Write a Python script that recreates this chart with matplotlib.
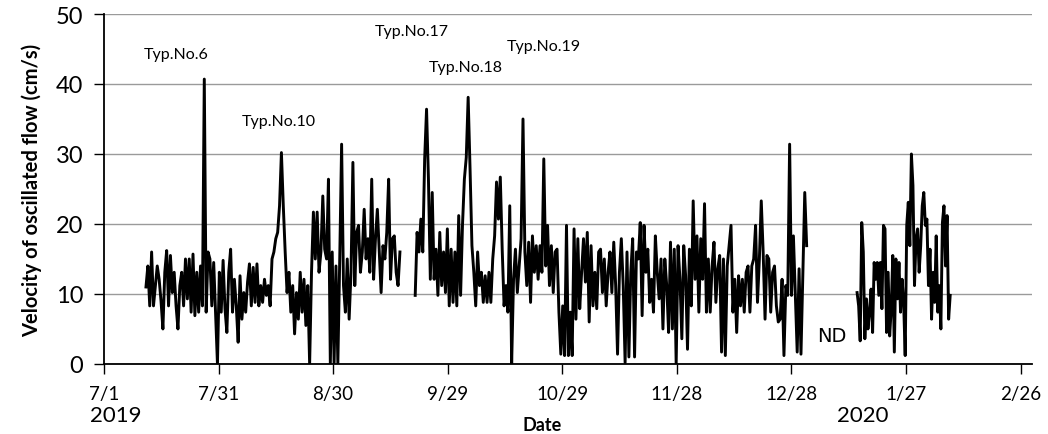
import pandas as pd
import numpy as np
import matplotlib
matplotlib.use('Agg')
import matplotlib.pyplot as plt
import matplotlib.dates as mdates

plt.rcParams['font.family'] = ['Lato', 'DejaVu Sans']

# half-day readings of oscillated flow velocity (cm/s), three recording periods
seg1_start, seg1_end = '2019-07-12 00:00', '2019-09-16 12:00'
seg1_vals = [
    11.0, 14.0, 8.3, 16.0, 8.3, 11.2, 14.0, 12.1, 9.0, 5.0, 13.1, 16.2, 8.3, 15.5, 10.2, 13.1,
    8.3, 5.0, 11.2, 13.1, 8.3, 15.0, 9.3, 15.0, 7.4, 15.7, 6.9, 13.1, 7.4, 14.0, 8.3, 40.7,
    7.4, 16.0, 15.0, 8.3, 14.5, 7.4, 0.0, 13.1, 7.4, 14.8, 7.9, 4.5, 13.1, 16.4, 7.4, 12.1,
    8.3, 3.1, 12.6, 6.4, 10.2, 7.4, 11.7, 14.3, 8.3, 13.8, 8.8, 14.3, 8.3, 11.2, 8.8, 12.1,
    9.8, 11.2, 8.3, 15.0, 16.0, 17.9, 18.8, 22.6, 30.2, 22.6, 16.0, 10.2, 13.1, 7.4, 11.2, 4.3,
    10.2, 6.4, 13.1, 7.4, 12.1,
    5.5, 11.2, 0.0, 13.1, 21.7, 15.0, 21.7, 13.1, 16.0, 24.0, 16.4, 15.0, 26.4, 0.0, 16.0, 0.0,
    14.0, 0.0, 15.0, 31.4, 11.2, 7.4, 15.0, 6.4, 13.1, 28.8, 11.2, 18.8, 19.8, 13.1, 16.0, 22.1,
    15.0, 17.9, 13.1, 26.4, 12.1, 17.9, 22.1, 16.0, 10.2, 16.9, 15.0, 18.8, 26.4, 12.1, 17.9, 18.3,
    13.1, 11.2, 16.0,
]

seg2_start, seg2_end = '2019-09-20 12:00', '2020-01-01 00:00'
seg2_vals = [
    9.8, 18.8, 16.0, 20.7, 16.0, 29.3, 36.4, 26.4, 12.1, 24.5, 12.1, 16.4, 9.8, 18.8, 11.2, 16.0,
    10.2, 19.3, 8.3, 16.4, 8.8, 16.0, 8.3, 21.2, 9.8, 19.8, 26.4, 29.5, 38.1, 27.9, 16.9, 13.1,
    8.3, 16.0, 11.2, 13.1, 8.8, 12.6, 8.8, 13.1, 8.8, 15.0,
    18.3, 26.0, 20.7, 26.7, 16.4, 8.3, 11.2, 7.4, 22.6, 0.0, 12.1, 16.4, 10.2, 14.0, 17.9, 35.0,
    16.0, 11.2, 17.4, 8.8, 18.3, 13.1, 16.9, 12.1, 16.9, 13.1, 29.3, 14.0, 19.8, 11.2, 16.9, 10.2,
    16.0, 16.4, 7.4, 1.4, 8.3, 1.2, 19.8, 1.2, 7.4, 1.2, 19.3, 6.4, 17.9, 7.9, 13.1, 17.9,
    11.7, 18.8,
    6.0, 16.9, 8.3, 13.1, 7.9, 16.0, 16.4, 10.2, 15.0, 8.3, 13.1, 16.0, 10.2, 17.4, 11.2, 1.4,
    13.1, 17.9, 11.2, 0.2, 16.0, 1.0, 13.1, 17.9, 1.0, 16.0, 15.0, 20.2, 6.9, 19.8, 13.1, 16.4,
    8.8, 12.1, 7.4, 18.3, 13.1, 9.3, 15.0, 5.0, 15.0, 11.2, 4.5, 17.4, 5.0, 16.4, 0.0, 16.9,
    12.1, 3.6, 16.9,
    12.6, 2.1, 16.4, 8.3, 23.3, 12.1, 18.3, 7.4, 17.9, 12.1, 22.9, 7.4, 15.0, 7.4, 14.0, 17.4,
    8.8, 13.6, 15.5, 1.7, 15.0, 1.2, 14.0, 16.9, 19.8, 7.4, 12.1, 4.5, 12.6, 8.3, 12.1, 7.4,
    13.1, 14.0, 7.4, 14.0, 15.0, 19.8, 8.8, 15.0, 23.3, 16.0, 6.4, 15.5, 15.0, 7.4, 13.1, 14.0,
    8.3, 6.0,
    6.4, 12.1, 1.2, 11.2, 9.8, 31.4, 9.8, 18.3, 9.8, 1.7, 13.6, 1.4, 13.1, 24.5, 16.9,
]

seg3_start, seg3_end = '2020-01-14 05:00', '2020-02-07 14:00'
seg3_vals = [
    10.2, 8.3, 3.3, 20.2, 16.0, 3.6, 9.3, 5.0, 7.4, 10.7, 4.5, 14.5, 12.1, 14.5, 9.8, 14.5,
    7.9, 19.8, 19.3, 4.5, 13.1, 4.0, 7.9, 15.5, 1.7, 15.0, 9.3, 14.5, 7.4, 12.1, 8.8, 1.2,
    19.8, 23.1, 16.9, 30.0, 25.5, 11.2, 17.9, 19.3, 13.1, 16.9, 22.6, 24.5, 19.8, 20.7, 11.2, 16.4,
    6.4, 13.1, 8.8, 18.3, 7.4, 11.2, 5.0, 20.2, 22.6, 14.0, 21.2, 6.4, 9.8,
]

typhoons = ['Typ.No.6', 'Typ.No.10', 'Typ.No.17', 'Typ.No.18', 'Typ.No.19']
typ_pos = [('2019-07-11 12:00', 44.3), ('2019-08-06', 34.7), ('2019-09-10', 47.6),
           ('2019-09-24', 42.4), ('2019-10-14 12:00', 45.4)]

tick_dates = pd.date_range('2019-07-01', periods=9, freq='30D')

fig = plt.figure(figsize=(10.48, 4.35), dpi=100)
ax = fig.add_axes([0.0992, 0.161, 0.8855, 0.8045])

for s, e, v in [(seg1_start, seg1_end, seg1_vals),
                (seg2_start, seg2_end, seg2_vals),
                (seg3_start, seg3_end, seg3_vals)]:
    t = pd.date_range(s, e, periods=len(v))
    ax.plot(t, v, color='black', lw=2.1)

ax.set_xlim(pd.Timestamp('2019-07-01'), pd.Timestamp('2020-02-29'))
ax.set_ylim(0, 50)
ax.set_yticks(range(0, 51, 10))
ax.set_xticks(tick_dates)
ax.set_xticklabels([f'{d.month}/{d.day}' for d in tick_dates])
ax.tick_params(axis='both', direction='out', length=7, width=1, color='black')
ax.tick_params(axis='y', labelsize=17, pad=8)
ax.tick_params(axis='x', labelsize=13.5, pad=8)

ax.grid(axis='y', color='#9a9a9a', lw=1)
ax.set_axisbelow(True)
for side in ['top', 'right']:
    ax.spines[side].set_visible(False)
ax.spines['left'].set_linewidth(1.3)
ax.spines['bottom'].set_linewidth(1.3)

ax.set_ylabel('Velocity of oscillated flow (cm/s)', fontsize=14.5, fontweight='bold', labelpad=10)
fig.text(0.517, 0.022, 'Date', fontsize=13, fontweight='bold', ha='center', va='center')

for name, (d, y) in zip(typhoons, typ_pos):
    ax.text(pd.Timestamp(d), y, name, fontsize=11.5, va='center', ha='left')
ax.text(pd.Timestamp('2020-01-07 12:00'), 4.0, 'ND', fontsize=14, va='center', ha='center',
        family=['Liberation Sans Narrow', 'DejaVu Sans'])

fig.text(0.086, 0.044, '2019', fontsize=16, va='center', ha='left')
fig.text(0.823, 0.044, '2020', fontsize=16, va='center', ha='center')

fig.savefig('out.png', dpi=100)
